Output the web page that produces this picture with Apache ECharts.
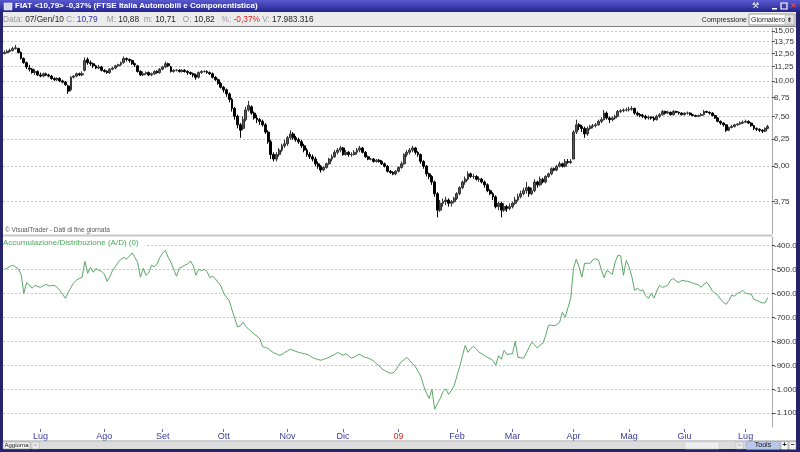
<!DOCTYPE html>
<html><head><meta charset="utf-8">
<script src="https://cdn.jsdelivr.net/npm/echarts@6/dist/echarts.min.js"></script>
<style>html,body{margin:0;padding:0;background:#24246a;}#c{width:800px;height:452px;}</style>
</head><body><div id="c"></div>
<script>
// ---- data ----
const holidays = ['2008-12-25','2008-12-26','2008-12-31','2009-01-01','2009-04-10','2009-04-13','2009-05-01'];
const monthNames = ['Gen','Feb','Mar','Apr','Mag','Giu','Lug','Ago','Set','Ott','Nov','Dic'];
function tradingDays(start, end){
  const out=[]; let d=new Date(start+'T00:00:00Z'); const e=new Date(end+'T00:00:00Z');
  while(d<=e){ const wd=d.getUTCDay(); const s=d.toISOString().slice(0,10);
    if(wd!==0&&wd!==6&&holidays.indexOf(s)<0) out.push(s); d=new Date(d.getTime()+86400000);} return out;
}
const dates = tradingDays('2008-06-12','2009-07-13');
const categories = dates.concat(['']);
const priceTicks = [3.75,5.00,6.25,7.50,8.75,10.00,11.25,12.50,13.75,15.00];
const adTicks = [-1100,-1000,-900,-800,-700,-600,-500,-400];
// [open, close, low, high]
const ohlc = [
[12.5,12.6,12.4,12.8],[12.6,12.7,12.5,12.9],[12.7,12.8,12.6,13.0],[12.8,13.0,12.7,13.2],[13.0,13.1,12.9,13.4],
[13.0,12.6,12.5,13.1],[12.6,12.0,11.9,12.7],[12.0,11.6,11.5,12.1],[11.6,11.2,11.0,11.7],[11.1,11.0,10.8,11.4],
[11.0,10.7,10.6,11.1],[10.7,10.8,10.5,11.0],[10.8,10.5,10.4,10.9],[10.5,10.4,10.3,10.7],[10.4,10.6,10.3,10.7],
[10.6,10.5,10.4,10.7],[10.5,10.4,10.3,10.6],[10.4,10.2,10.1,10.5],[10.2,10.1,10.0,10.3],[10.1,10.2,10.0,10.3],
[10.2,10.0,9.9,10.3],[10.0,9.9,9.8,10.1],[9.9,9.7,9.6,10.0],[9.6,9.2,9.0,9.7],[9.3,10.3,9.2,10.4],
[10.3,10.4,10.2,10.5],[10.4,10.6,10.3,10.7],[10.6,10.5,10.4,10.7],[10.5,10.6,10.4,10.8],[10.9,11.8,10.8,12.1],
[11.9,11.6,11.4,12.1],[11.6,11.5,11.3,11.8],[11.5,11.3,11.1,11.6],[11.3,11.1,11.0,11.4],[11.1,11.2,11.0,11.4],
[11.2,10.9,10.8,11.3],[10.9,10.8,10.7,11.0],[10.8,10.7,10.6,10.9],[10.7,11.0,10.6,11.1],[11.0,11.1,10.9,11.2],
[11.1,11.3,11.0,11.4],[11.3,11.4,11.2,11.5],[11.4,11.6,11.3,11.7],[11.6,12.0,11.5,12.2],[12.0,11.9,11.7,12.1],
[11.9,11.8,11.6,12.0],[11.8,11.5,11.4,11.9],[11.5,11.4,11.2,11.6],[11.3,10.8,10.7,11.4],[10.8,10.5,10.4,10.9],
[10.5,10.6,10.4,10.8],[10.6,10.7,10.5,10.8],[10.7,10.5,10.4,10.8],[10.5,10.6,10.4,10.7],[10.6,10.8,10.5,10.9],
[10.8,10.7,10.6,10.9],[10.7,11.0,10.6,11.1],[11.0,11.2,10.9,11.3],[11.2,11.5,11.1,11.7],[11.5,11.3,11.2,11.6],
[11.2,10.8,10.7,11.3],[10.8,10.9,10.7,11.0],[10.9,10.9,10.8,11.0],[10.9,10.8,10.7,11.0],[10.8,10.9,10.7,11.0],
[10.9,10.8,10.7,11.0],[10.8,10.7,10.5,10.9],[10.7,10.6,10.5,10.8],[10.6,10.5,10.3,10.7],[10.5,10.3,10.1,10.6],
[10.3,10.7,10.2,10.8],[10.7,10.8,10.6,10.9],[10.8,10.8,10.7,10.9],[10.8,10.7,10.6,10.9],[10.7,10.6,10.5,10.8],
[10.6,10.3,10.2,10.7],[10.3,10.1,10.0,10.4],[10.1,9.8,9.7,10.2],[9.8,9.5,9.4,9.9],[9.5,9.3,9.1,9.6],
[9.3,9.0,8.8,9.4],[9.0,8.6,8.4,9.1],[8.6,8.0,7.8,8.7],[8.0,7.5,7.3,8.1],[7.5,7.0,6.8,7.6],
[7.0,6.7,6.3,7.1],[6.8,7.3,6.7,7.5],[7.3,7.9,7.2,8.1],[7.9,8.2,7.8,8.5],[8.1,7.7,7.6,8.2],
[7.7,7.4,7.3,7.8],[7.4,7.3,7.1,7.6],[7.3,7.2,7.0,7.4],[7.2,7.0,6.9,7.3],[7.0,6.6,6.5,7.1],
[6.6,6.1,6.0,6.7],[6.1,5.5,5.3,6.2],[5.5,5.3,5.2,5.6],[5.3,5.5,5.2,5.6],[5.5,5.7,5.4,5.8],
[5.7,5.9,5.6,6.0],[5.9,6.0,5.8,6.2],[6.0,6.3,5.9,6.4],[6.3,6.5,6.2,6.7],[6.5,6.3,6.2,6.6],
[6.3,6.2,6.1,6.4],[6.2,6.1,6.0,6.3],[6.1,5.9,5.8,6.2],[5.9,5.7,5.6,6.0],[5.7,5.5,5.4,5.8],
[5.5,5.4,5.3,5.6],[5.4,5.3,5.2,5.5],[5.3,5.1,5.0,5.4],[5.1,5.0,4.9,5.2],[5.0,4.85,4.75,5.05],
[4.85,4.95,4.8,5.0],[4.95,5.1,4.9,5.15],[5.1,5.3,5.05,5.35],[5.3,5.4,5.2,5.5],[5.4,5.6,5.35,5.7],
[5.6,5.7,5.5,5.8],[5.7,5.8,5.6,5.9],[5.8,5.5,5.45,5.85],[5.5,5.6,5.45,5.7],[5.6,5.5,5.4,5.65],
[5.5,5.5,5.4,5.6],[5.5,5.6,5.45,5.7],[5.6,5.7,5.5,5.8],[5.7,5.8,5.6,5.9],[5.8,5.6,5.55,5.85],
[5.6,5.4,5.35,5.65],[5.4,5.3,5.25,5.45],[5.3,5.3,5.25,5.35],[5.3,5.2,5.15,5.35],[5.2,5.25,5.15,5.3],
[5.25,5.2,5.15,5.3],[5.2,5.1,5.05,5.25],[5.1,5.0,4.95,5.15],[5.0,4.8,4.75,5.05],[4.8,4.75,4.7,4.85],
[4.75,4.7,4.65,4.8],[4.7,4.8,4.65,4.85],[4.8,4.95,4.75,5.0],[4.95,5.1,4.9,5.2],[5.1,5.5,5.05,5.55],
[5.5,5.6,5.4,5.7],[5.6,5.7,5.5,5.8],[5.7,5.8,5.6,5.9],[5.8,5.6,5.5,5.85],[5.6,5.5,5.4,5.65],
[5.5,5.2,5.1,5.55],[5.2,5.0,4.9,5.25],[5.0,4.7,4.6,5.05],[4.7,4.6,4.5,4.75],[4.6,4.4,4.3,4.65],
[4.4,4.0,3.9,4.45],[4.0,3.5,3.3,4.05],[3.5,3.7,3.45,3.8],[3.7,3.75,3.6,3.85],[3.75,3.8,3.65,3.9],
[3.8,3.7,3.6,3.85],[3.7,3.75,3.6,3.8],[3.75,3.85,3.7,3.9],[3.85,4.0,3.8,4.05],[4.0,4.2,3.95,4.25],
[4.2,4.4,4.15,4.45],[4.4,4.5,4.3,4.6],[4.5,4.7,4.45,4.8],[4.7,4.6,4.55,4.75],[4.6,4.6,4.5,4.7],
[4.6,4.5,4.45,4.65],[4.5,4.5,4.4,4.6],[4.5,4.4,4.35,4.55],[4.4,4.3,4.2,4.45],[4.3,4.1,4.05,4.35],
[4.1,4.0,3.95,4.15],[4.0,3.9,3.8,4.05],[3.9,3.6,3.55,3.95],[3.6,3.7,3.5,3.75],[3.7,3.5,3.3,3.75],
[3.5,3.6,3.45,3.7],[3.6,3.55,3.45,3.65],[3.55,3.6,3.5,3.7],[3.6,3.7,3.55,3.75],[3.7,3.8,3.65,3.9],
[3.8,3.9,3.75,4.0],[3.9,4.0,3.85,4.1],[4.0,4.1,3.95,4.2],[4.1,4.2,4.0,4.4],[4.2,4.0,3.9,4.25],
[4.0,4.1,3.95,4.2],[4.1,4.4,4.05,4.5],[4.4,4.3,4.2,4.45],[4.3,4.5,4.25,4.6],[4.5,4.4,4.35,4.55],
[4.4,4.6,4.35,4.65],[4.6,4.7,4.55,4.75],[4.7,4.9,4.65,4.95],[4.9,4.85,4.8,4.95],[4.85,5.0,4.8,5.05],
[5.0,5.1,4.95,5.2],[5.1,5.0,4.95,5.15],[5.0,5.2,4.95,5.3],[5.2,5.15,5.1,5.3],[5.15,5.2,5.1,5.3],
[5.3,6.6,5.3,6.7],[6.6,7.0,6.5,7.3],[7.0,6.9,6.7,7.1],[6.9,6.8,6.6,7.0],[6.8,6.5,6.3,6.9],
[6.5,6.8,6.4,6.9],[6.8,6.9,6.7,7.0],[6.9,6.95,6.8,7.05],[6.95,7.0,6.85,7.1],[7.0,7.2,6.95,7.3],
[7.2,7.3,7.1,7.45],[7.3,7.7,7.25,7.9],[7.7,7.4,7.3,7.8],[7.4,7.3,7.1,7.5],[7.3,7.4,7.2,7.5],
[7.4,7.5,7.3,7.6],[7.5,7.8,7.45,7.9],[7.8,7.85,7.7,7.95],[7.85,7.9,7.75,8.0],[7.9,7.9,7.8,8.05],
[7.9,7.95,7.8,8.1],[7.95,8.0,7.85,8.15],[8.0,7.7,7.6,8.05],[7.7,7.6,7.5,7.8],[7.6,7.55,7.45,7.7],
[7.55,7.5,7.4,7.65],[7.5,7.4,7.3,7.6],[7.4,7.45,7.3,7.55],[7.45,7.4,7.3,7.5],[7.4,7.3,7.2,7.5],
[7.3,7.5,7.25,7.6],[7.5,7.6,7.4,7.7],[7.6,7.8,7.55,7.9],[7.8,7.7,7.6,7.85],[7.7,7.75,7.65,7.85],
[7.75,7.6,7.55,7.8],[7.6,7.8,7.55,7.9],[7.8,7.75,7.7,7.85],[7.75,7.7,7.6,7.8],[7.7,7.6,7.55,7.75],
[7.6,7.7,7.55,7.75],[7.7,7.7,7.6,7.8],[7.7,7.6,7.55,7.75],[7.6,7.55,7.5,7.65],[7.55,7.5,7.45,7.6],
[7.5,7.55,7.45,7.6],[7.55,7.6,7.5,7.7],[7.6,7.8,7.55,7.9],[7.8,7.75,7.7,7.85],[7.75,7.7,7.6,7.8],
[7.7,7.55,7.5,7.75],[7.55,7.4,7.35,7.6],[7.4,7.2,7.15,7.45],[7.2,7.1,7.0,7.25],[7.1,7.0,6.9,7.15],
[7.0,6.7,6.6,7.05],[6.7,6.85,6.65,6.9],[6.85,6.9,6.8,7.0],[6.9,7.0,6.85,7.05],[7.0,7.05,6.95,7.1],
[7.05,7.1,7.0,7.2],[7.1,7.15,7.05,7.25],[7.15,7.2,7.1,7.3],[7.2,7.1,7.05,7.25],[7.1,6.95,6.9,7.15],
[6.95,6.8,6.7,7.0],[6.8,6.75,6.65,6.85],[6.75,6.7,6.6,6.8],[6.7,6.65,6.55,6.75],[6.65,6.8,6.6,6.85],
[6.8,6.9,6.75,7.0]
];
const adValues = [
-500,-495,-488,-483,-490,-498,-520,-600,-555,-565,
-579,-567,-572,-575,-568,-563,-569,-568,-567,-575,
-588,-605,-621,-595,-575,-556,-545,-538,-533,-467,
-517,-492,-512,-496,-505,-508,-520,-550,-530,-504,
-488,-471,-458,-450,-458,-445,-432,-450,-471,-533,
-496,-525,-515,-483,-490,-478,-450,-433,-421,-450,
-471,-500,-529,-495,-490,-483,-478,-465,-485,-525,
-500,-505,-500,-510,-535,-528,-540,-555,-570,-600,
-617,-630,-670,-705,-740,-735,-721,-738,-750,-760,
-770,-778,-790,-822,-826,-830,-840,-848,-852,-858,
-855,-846,-840,-833,-838,-842,-846,-849,-852,-854,
-860,-868,-872,-876,-879,-875,-871,-866,-860,-855,
-846,-852,-858,-852,-860,-870,-866,-858,-854,-862,
-867,-870,-875,-882,-893,-902,-915,-922,-928,-933,
-932,-920,-900,-885,-877,-867,-880,-893,-905,-925,
-945,-985,-1015,-1038,-1000,-1083,-1060,-1038,-1010,-998,
-1021,-1005,-985,-945,-905,-860,-817,-846,-830,-821,
-832,-846,-852,-860,-867,-872,-880,-900,-860,-875,
-838,-855,-853,-852,-800,-867,-868,-871,-850,-825,
-804,-815,-828,-815,-808,-775,-733,-733,-735,-730,
-721,-679,-700,-660,-621,-496,-458,-490,-533,-475,
-475,-475,-460,-456,-462,-500,-535,-505,-512,-521,
-470,-442,-444,-525,-463,-490,-530,-588,-578,-590,
-586,-610,-621,-600,-620,-590,-567,-575,-572,-565,
-545,-538,-550,-555,-546,-548,-550,-553,-558,-562,
-565,-575,-562,-554,-570,-590,-600,-608,-625,-638,
-646,-630,-608,-612,-600,-595,-588,-600,-602,-604,
-625,-630,-635,-640,-640,-617
];

// ---- helpers ----
function isMonthStart(i){ return i>0 && i<dates.length && dates[i].slice(0,7)!==dates[i-1].slice(0,7); }
function fmtPrice(v){ return Math.exp(v).toFixed(2).replace('.',','); }
function fmtAD(v){ v=Math.round(v); if(Math.abs(v)>=1000){const s=String(Math.abs(v)); return '-'+s.slice(0,s.length-3)+'.'+s.slice(-3);} return v.toFixed(1); }
const FONT = 'Liberation Sans, Arial, sans-serif';
const gridLineStyle = {color:'#c4c4c4', type:[2,2], width:1};

const chart = echarts.init(document.getElementById('c'), null, {renderer:'canvas'});
const L = 3, R = 28;
const option = {
  animation:false,
  backgroundColor:'#24246a',
  grid:[
    {left:L, right:R, top:28, height:206},
    {left:L, right:R, top:237, height:190}
  ],
  xAxis:[
    {type:'category', gridIndex:0, data:categories, boundaryGap:true, axisLine:{show:false}, axisTick:{show:false}, axisLabel:{show:false}, splitLine:{show:false}},
    {type:'category', gridIndex:1, data:categories, boundaryGap:true, offset:2,
     axisLine:{show:false},
     axisTick:{show:true, alignWithLabel:true, length:3, interval:(i)=>isMonthStart(i), lineStyle:{color:'#6a6aa8'}},
     axisLabel:{show:true, interval:(i)=>isMonthStart(i), margin:3, color:'#3a3a9c', fontSize:9, fontFamily:FONT,
       formatter:(val)=>{ if(!val) return ''; const m=+val.slice(5,7); return m===1?'{y|'+val.slice(2,4)+'}':monthNames[m-1]; },
       rich:{y:{color:'#d03030', fontSize:9, fontFamily:FONT}}},
     splitLine:{show:false}}
  ],
  yAxis:[
    {type:'value', gridIndex:0, position:'right', min:Math.log(15)-203/123.1, max:Math.log(15)+3/123.1,
     axisLine:{show:true, lineStyle:{color:'#a8a8a8'}},
     axisTick:{show:true, length:3, customValues:priceTicks.map(Math.log), lineStyle:{color:'#555'}},
     axisLabel:{show:true, margin:2, customValues:priceTicks.map(Math.log), formatter:fmtPrice, color:'#333', fontSize:8, fontFamily:FONT},
     splitLine:{show:true, lineStyle:gridLineStyle}},
    {type:'value', gridIndex:1, position:'right', min:-1157.1, max:-365.4,
     axisLine:{show:true, lineStyle:{color:'#a8a8a8'}},
     axisTick:{show:true, length:3, customValues:adTicks, lineStyle:{color:'#555'}},
     axisLabel:{show:true, margin:2, customValues:adTicks, formatter:fmtAD, color:'#333', fontSize:8, fontFamily:FONT},
     splitLine:{show:true, lineStyle:gridLineStyle}}
  ],
  series:[
    {type:'candlestick', xAxisIndex:0, yAxisIndex:0, barWidth:2.4,
     data:ohlc.map(r=>r.map(Math.log)),
     itemStyle:{color:'#555', color0:'#000', borderColor:'#333', borderColor0:'#000', borderWidth:1}},
    {type:'line', xAxisIndex:1, yAxisIndex:1, data:adValues, showSymbol:false, symbol:'none',
     lineStyle:{color:'#5aa866', width:1}}
  ],
  graphic:[]
};

const g = option.graphic;
const IF = '8.3px '+FONT;
// window chrome
g.push({type:'rect', z:-10, shape:{x:3,y:12,width:793,height:430}, style:{fill:'#ffffff'}, silent:true});
g.push({type:'rect', z:-9, shape:{x:0,y:0,width:800,height:12}, style:{fill:new echarts.graphic.LinearGradient(0,0,0,1,[{offset:0,color:'#5a5ad0'},{offset:1,color:'#24248c'}])}});
g.push({type:'rect', z:-9, shape:{x:3,y:12,width:793,height:15}, style:{fill:'#ececec'}});
g.push({type:'rect', z:-9, shape:{x:3,y:26,width:793,height:1}, style:{fill:'#808080'}});
g.push({type:'rect', z:-9, shape:{x:4,y:3,width:8,height:7}, style:{fill:'#d8d8f0', stroke:'#ffffff', lineWidth:0.5}});
g.push({type:'text', z:10, style:{x:15, y:6, text:'FIAT <10,79> -0,37% (FTSE Italia Automobili e Componentistica)', fill:'#ffffff', font:'bold 8px '+FONT, verticalAlign:'middle', textVerticalAlign:'middle'}});
// title icons
g.push({type:'text', z:10, style:{x:752, y:6, text:'⚒', fill:'#ffffff', font:'8px DejaVu Sans', verticalAlign:'middle', textVerticalAlign:'middle'}});
g.push({type:'rect', z:10, shape:{x:772,y:8,width:5,height:1.5}, style:{fill:'#ffffff'}});
g.push({type:'rect', z:10, shape:{x:781,y:3,width:6,height:6}, style:{fill:'none', stroke:'#ffffff', lineWidth:1.2}});
g.push({type:'text', z:10, style:{x:790, y:6, text:'✕', fill:'#ff5030', font:'bold 8px DejaVu Sans', verticalAlign:'middle', textVerticalAlign:'middle'}});
// info bar
g.push({type:'text', z:10, style:{x:3, y:20, verticalAlign:'middle', textVerticalAlign:'middle', font:IF,
  text:'{l|Data:} {v|07/Gen/10} {l|C:} {b|10,79}    {l|M:} {v|10,88}  {l|m:} {v|10,71}   {l|O:} {v|10,82}   {l|%:} {r|-0,37%} {l|V:} {v|17.983.316}',
  rich:{l:{fill:'#9a9a9a', font:IF}, v:{fill:'#222', font:IF}, b:{fill:'#3030b0', font:IF}, r:{fill:'#e02020', font:IF}}}});
g.push({type:'text', z:10, style:{x:747, y:20, text:'Compressione', fill:'#222', font:'7px '+FONT, align:'right', textAlign:'right', verticalAlign:'middle', textVerticalAlign:'middle'}});
g.push({type:'rect', z:10, shape:{x:749,y:14,width:46,height:11}, style:{fill:'#ffffff', stroke:'#999', lineWidth:1}});
g.push({type:'text', z:11, style:{x:751, y:20, text:'Giornaliero', fill:'#222', font:'7px '+FONT, verticalAlign:'middle', textVerticalAlign:'middle'}});
g.push({type:'rect', z:11, shape:{x:785,y:15,width:9,height:9}, style:{fill:'#e4e4e4', stroke:'#aaa', lineWidth:0.5}});
g.push({type:'text', z:12, style:{x:789.5, y:20, text:'⇟', fill:'#222', font:'7px DejaVu Sans', align:'center', textAlign:'center', verticalAlign:'middle', textVerticalAlign:'middle'}});
// panel separator & texts
g.push({type:'rect', z:10, shape:{x:3,y:234.5,width:769,height:2}, style:{fill:'#c8c8c8'}});
g.push({type:'text', z:10, style:{x:5, y:230, text:'© VisualTrader - Dati di fine giornata', fill:'#555', font:'6.5px '+FONT, verticalAlign:'middle', textVerticalAlign:'middle'}});
g.push({type:'rect', z:9, shape:{x:3,y:238,width:142,height:9}, style:{fill:'#ffffff'}});
g.push({type:'text', z:10, style:{x:3, y:243, text:'Accumulazione/Distribuzione (A/D) (0)', fill:'#4aa85a', font:'8px '+FONT, verticalAlign:'middle', textVerticalAlign:'middle'}});
// bottom bar
g.push({type:'rect', z:10, shape:{x:3,y:441,width:793,height:8}, style:{fill:'#dcdcdc'}});
g.push({type:'rect', z:10, shape:{x:3,y:440.5,width:793,height:0.8}, style:{fill:'#a0a0a0'}});
g.push({type:'rect', z:11, shape:{x:3,y:442,width:27,height:7}, style:{fill:'#f4f4f4', stroke:'#888', lineWidth:0.5}});
g.push({type:'text', z:12, style:{x:16.5, y:445.5, text:'Aggiorna', fill:'#111', font:'6px '+FONT, align:'center', textAlign:'center', verticalAlign:'middle', textVerticalAlign:'middle'}});
g.push({type:'rect', z:11, shape:{x:32,y:442,width:7,height:7}, style:{fill:'#eeeeee', stroke:'#aaa', lineWidth:0.5}});
g.push({type:'text', z:12, style:{x:35.5, y:445.5, text:'<', fill:'#888', font:'6px '+FONT, align:'center', textAlign:'center', verticalAlign:'middle', textVerticalAlign:'middle'}});
g.push({type:'rect', z:11, shape:{x:685,y:442,width:34,height:7}, style:{fill:'#efefef', stroke:'#c8c8c8', lineWidth:0.5}});
g.push({type:'rect', z:11, shape:{x:736,y:442,width:7,height:7}, style:{fill:'#eeeeee', stroke:'#aaa', lineWidth:0.5}});
g.push({type:'text', z:12, style:{x:739.5, y:445.5, text:'>', fill:'#888', font:'6px '+FONT, align:'center', textAlign:'center', verticalAlign:'middle', textVerticalAlign:'middle'}});
g.push({type:'rect', z:11, shape:{x:746,y:441.5,width:34,height:8}, style:{fill:'#b8c8e8', stroke:'#8898c0', lineWidth:0.5}});
g.push({type:'text', z:12, style:{x:763, y:445.5, text:'Tools', fill:'#111', font:'7px '+FONT, align:'center', textAlign:'center', verticalAlign:'middle', textVerticalAlign:'middle'}});
g.push({type:'rect', z:11, shape:{x:781,y:441.5,width:7,height:8}, style:{fill:'#f4f4f4', stroke:'#888', lineWidth:0.5}});
g.push({type:'text', z:12, style:{x:784.5, y:445.5, text:'+', fill:'#111', font:'bold 7px '+FONT, align:'center', textAlign:'center', verticalAlign:'middle', textVerticalAlign:'middle'}});
g.push({type:'rect', z:11, shape:{x:789,y:441.5,width:7,height:8}, style:{fill:'#f4f4f4', stroke:'#888', lineWidth:0.5}});
g.push({type:'text', z:12, style:{x:792.5, y:445.5, text:'−', fill:'#111', font:'bold 7px '+FONT, align:'center', textAlign:'center', verticalAlign:'middle', textVerticalAlign:'middle'}});

chart.setOption(option);
</script></body></html>
